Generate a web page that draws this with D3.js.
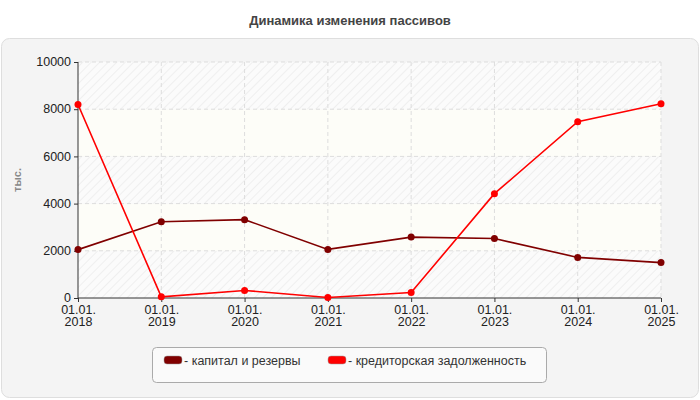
<!DOCTYPE html><html><head><meta charset="utf-8"><script src="https://cdn.jsdelivr.net/npm/d3@7"></script>
<style>body{margin:0;background:#fff}text{font-family:"Liberation Sans",Arial,sans-serif}</style></head><body><svg id="c" width="700" height="400"></svg>
<script>
const categories=["01.01.\n2018","01.01.\n2019","01.01.\n2020","01.01.\n2021","01.01.\n2022","01.01.\n2023","01.01.\n2024","01.01.\n2025"];
const capital=[2050,3230,3320,2060,2580,2520,1720,1500];
const credit=[8200,50,320,20,230,4420,7470,8230];
const yTicks=[0,2000,4000,6000,8000,10000];
const seriesNames=["капитал и резервы","кредиторская задолженность"];
const colors=["#800000","#ff0000"];
const svg=d3.select("#c");
const defs=svg.append("defs");
const p=defs.append("pattern").attr("id","h").attr("width",6).attr("height",6).attr("patternUnits","userSpaceOnUse").attr("patternTransform","rotate(45)");
p.append("rect").attr("width",6).attr("height",6).attr("fill","#fbfbfb");
p.append("line").attr("x1",0).attr("y1",0).attr("x2",0).attr("y2",6).attr("stroke","#ececec").attr("stroke-width",1.5);
svg.append("text").attr("x",350).attr("y",25).attr("text-anchor","middle").attr("font-size",13).attr("font-weight","bold").attr("fill","#444").text("Динамика изменения пассивов");
svg.append("rect").attr("x",1.5).attr("y",38.5).attr("width",697).attr("height",359).attr("rx",8).attr("fill","#f4f4f4").attr("stroke","#dedede");
const x=d3.scalePoint().domain(categories).range([78,661]);
const y=d3.scaleLinear().domain([0,10000]).range([298,62]);
const g=svg.append("g");
for(let i=0;i<5;i++){const a=yTicks[i],b=yTicks[i+1];
g.append("rect").attr("x",78).attr("width",583).attr("y",y(b)).attr("height",y(a)-y(b)).attr("fill",i%2==0?"url(#h)":"#fdfdf8");}
yTicks.slice(1).forEach(t=>g.append("line").attr("x1",78).attr("x2",661).attr("y1",y(t)).attr("y2",y(t)).attr("stroke","#ddd").attr("stroke-dasharray","4,3"));
categories.slice(1).forEach(c=>g.append("line").attr("x1",x(c)).attr("x2",x(c)).attr("y1",62).attr("y2",298).attr("stroke","#ddd").attr("stroke-dasharray","4,3"));
const ya=svg.append("g").attr("transform","translate(78,0)").call(d3.axisLeft(y).tickValues(yTicks).tickSize(4).tickFormat(d3.format("d")));
const xa=svg.append("g").attr("transform","translate(0,298)").call(d3.axisBottom(x).tickSize(4).tickFormat(""));
[ya,xa].forEach(a=>{a.selectAll("path,line").attr("stroke","#333");a.selectAll("text").attr("font-size",12.5).attr("fill","#222");});
ya.selectAll(".tick text").attr("dy","0.3em");
xa.select(".domain").attr("d","M78,0H661");
ya.select(".domain").attr("d","M0,298V62");
xa.selectAll(".tick").each(function(d){const t=d3.select(this).append("text").attr("text-anchor","middle").attr("font-size",12.5).attr("fill","#222");
d.split("\n").forEach((s,i)=>t.append("tspan").attr("x",0).attr("y",16+i*12).text(s));});
svg.append("text").attr("transform","translate(21,180) rotate(-90)").attr("text-anchor","middle").attr("font-size",11).attr("font-weight","bold").attr("fill","#888").text("тыс.");
[capital,credit].forEach((s,k)=>{
svg.append("path").datum(s).attr("fill","none").attr("stroke",colors[k]).attr("stroke-width",1.6).attr("d",d3.line().x((d,i)=>x(categories[i])).y(d=>y(d)));
svg.selectAll(null).data(s).enter().append("circle").attr("cx",(d,i)=>x(categories[i])).attr("cy",d=>y(d)).attr("r",3.5).attr("fill",colors[k]);});
svg.append("rect").attr("x",152.5).attr("y",347.5).attr("width",394).attr("height",35).attr("rx",4).attr("fill","#fafafa").attr("stroke","#aaa");
const lx=[164,328];
seriesNames.forEach((n,k)=>{svg.append("rect").attr("x",lx[k]).attr("y",356).attr("width",18).attr("height",8).attr("rx",3).attr("fill",colors[k]).attr("stroke","#999").attr("stroke-width",0.5);
svg.append("text").attr("x",lx[k]+20).attr("y",365).attr("font-size",12.5).attr("fill","#333").text("- "+n);});
</script></body></html>
